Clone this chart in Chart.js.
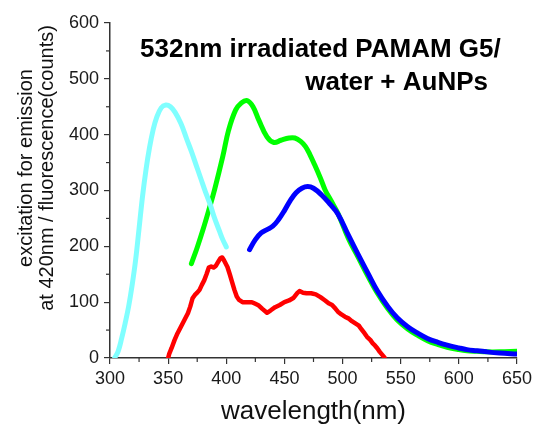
<!DOCTYPE html>
<html>
<head>
<meta charset="utf-8">
<script src="https://cdn.jsdelivr.net/npm/chart.js@4"></script>
<style>
  html, body { margin: 0; padding: 0; background: #fff; }
  #wrap { width: 536px; height: 425px; }
</style>
</head>
<body>
<div id="wrap"><canvas id="grafico" width="536" height="425"></canvas></div>
<script>
// valores (nm / counts)
const cianoNm = [304, 307, 310, 313, 316, 319, 322, 325, 328, 331, 334, 337, 340, 344, 348, 352, 356, 361, 366, 370, 374, 378, 382, 386, 390, 394, 397, 400];
const cianoVal = [0, 12, 35, 62, 92, 130, 175, 232, 290, 338, 377, 408, 430, 448, 453, 450, 440, 420, 392, 370, 346, 322, 298, 276, 250, 228, 212, 199];

const verdeNm = [370, 375, 380, 385, 390, 397, 402, 408, 413, 418, 423, 428, 435, 441, 447, 454, 459, 464, 468, 472, 476, 481, 485, 490, 496, 505, 513, 522, 530, 539, 547, 556, 565, 573, 582, 590, 600, 607, 615, 624, 635, 650];
const verdeVal = [169, 198, 230, 265, 302, 361, 408, 444, 457, 461, 450, 426, 396, 386, 390, 394, 394, 388, 379, 364, 346, 322, 301, 282, 259, 214, 182, 146, 116, 88, 68, 52, 40, 31, 24, 19, 15, 13, 12, 11, 11, 12];

const azulNm = [420, 425, 430, 435, 440, 445, 450, 455, 460, 465, 470, 475, 482, 489, 496, 505, 513, 522, 530, 539, 547, 556, 565, 573, 582, 590, 600, 607, 615, 624, 635, 650];
const azulVal = [194, 212, 224, 230, 236, 248, 264, 282, 296, 304, 307, 304, 292, 276, 258, 220, 187, 151, 120, 92, 72, 56, 44, 35, 28, 23, 18, 15, 13, 11, 9, 7];

const vermelhoNm = [350, 351, 353, 355.5, 358, 361, 364, 367, 369, 371, 373, 375, 377, 379, 381, 383, 385, 387, 389, 391, 393, 395, 396.5, 398, 401, 403, 405, 407, 409, 411, 414, 418, 422, 425, 428, 431, 435, 438, 442, 446, 450, 454, 458, 461, 463, 466, 469, 473, 477, 481, 485, 488, 491, 494, 496, 499, 502, 505, 508, 511, 514, 516, 519, 521, 524, 526, 528, 530, 532, 534, 536];
const vermelhoVal = [0, 8, 18, 32, 44, 56, 68, 80, 92, 107, 113, 117, 122, 131, 139, 150, 162, 164, 162, 165, 172, 179, 180, 175, 163, 150, 136, 122, 110, 104, 100, 100, 100, 97, 94, 88, 81, 85, 91, 95, 100, 103, 108, 116, 120, 117, 116, 116, 114, 109, 103, 98, 95, 88, 83, 78, 74, 71, 66, 62, 58, 52, 44, 38, 32, 26, 22, 17, 11, 6, 1];

const ticksX = [300, 350, 400, 450, 500, 550, 600, 650];
const ticksY = [0, 100, 200, 300, 400, 500, 600];

const titulo = ["532nm irradiated PAMAM G5/", "water + AuNPs"];
const tituloY = ["excitation for emission", "at 420nm / fluorescence(counts)"];
const tituloX = "wavelength(nm)";

function pontos(xs, ys) {
  return xs.map((x, i) => ({ x, y: ys[i] }));
}

function serie(xs, ys, cor, tensao, largura, ordem) {
  return {
    data: pontos(xs, ys),
    borderColor: cor,
    borderWidth: largura,
    pointRadius: 0,
    tension: tensao,
    borderJoinStyle: "round",
    borderCapStyle: "round",
    fill: false,
    order: ordem
  };
}

const fonte = "'Liberation Sans', Arial, sans-serif";

// ticks menores e textos
const extras = {
  id: "extras",
  afterDraw(chart) {
    const c = chart.ctx;
    const sx = chart.scales.x, sy = chart.scales.y;
    const area = chart.chartArea;
    c.save();
    c.strokeStyle = "#333";
    c.lineWidth = 1.2;
    for (let i = 0; i < ticksX.length - 1; i++) {
      const px = sx.getPixelForValue((ticksX[i] + ticksX[i + 1]) / 2);
      c.beginPath();
      c.moveTo(px, area.bottom);
      c.lineTo(px, area.bottom + 4);
      c.stroke();
    }
    for (let i = 0; i < ticksY.length - 1; i++) {
      const py = sy.getPixelForValue((ticksY[i] + ticksY[i + 1]) / 2);
      c.beginPath();
      c.moveTo(area.left, py);
      c.lineTo(area.left - 4, py);
      c.stroke();
    }

    c.fillStyle = "#000";
    c.font = "bold 26px " + fonte;
    c.textBaseline = "alphabetic";
    c.textAlign = "left";
    c.fillText(titulo[0], 140, 57);
    c.textAlign = "right";
    c.fillText(titulo[1], 488, 90);

    c.fillStyle = "#111";
    c.font = "26px " + fonte;
    c.textAlign = "center";
    c.fillText(tituloX, (area.left + area.right) / 2, 419);

    c.font = "20px " + fonte;
    c.translate(0, 168);
    c.rotate(-Math.PI / 2);
    c.fillText(tituloY[0], 0, 32);
    c.fillText(tituloY[1], 0, 53);
    c.restore();
  }
};

new Chart(document.getElementById("grafico"), {
  type: "line",
  data: {
    datasets: [
      serie(cianoNm, cianoVal, "#80ffff", 0.4, 5, 0),
      serie(azulNm, azulVal, "#0000ff", 0.4, 5, 1),
      serie(verdeNm, verdeVal, "#00ff00", 0.4, 5, 2),
      serie(vermelhoNm, vermelhoVal, "#ff0000", 0, 4.5, 3)
    ]
  },
  options: {
    responsive: false,
    animation: false,
    layout: { padding: { top: 23, right: 16, left: 0, bottom: 0 } },
    plugins: {
      legend: { display: false },
      tooltip: { enabled: false }
    },
    scales: {
      x: {
        type: "linear",
        min: 300,
        max: 650,
        afterFit(s) { s.height = 67; },
        afterBuildTicks(s) { s.ticks = ticksX.map(v => ({ value: v })); },
        grid: { drawOnChartArea: false, drawTicks: true, tickLength: 6, color: "#333", lineWidth: 1.2 },
        border: { display: true, color: "#333", width: 1.5 },
        ticks: { color: "#1a1a1a", font: { family: fonte, size: 18 }, padding: 4, maxRotation: 0 }
      },
      y: {
        min: 0,
        max: 600,
        afterFit(s) { s.width = 110; },
        afterBuildTicks(s) { s.ticks = ticksY.map(v => ({ value: v })); },
        grid: { drawOnChartArea: false, drawTicks: true, tickLength: 6, color: "#333", lineWidth: 1.2 },
        border: { display: true, color: "#333", width: 1.5 },
        ticks: { color: "#1a1a1a", font: { family: fonte, size: 18 }, padding: 5 }
      }
    }
  },
  plugins: [extras]
});
</script>
</body>
</html>
